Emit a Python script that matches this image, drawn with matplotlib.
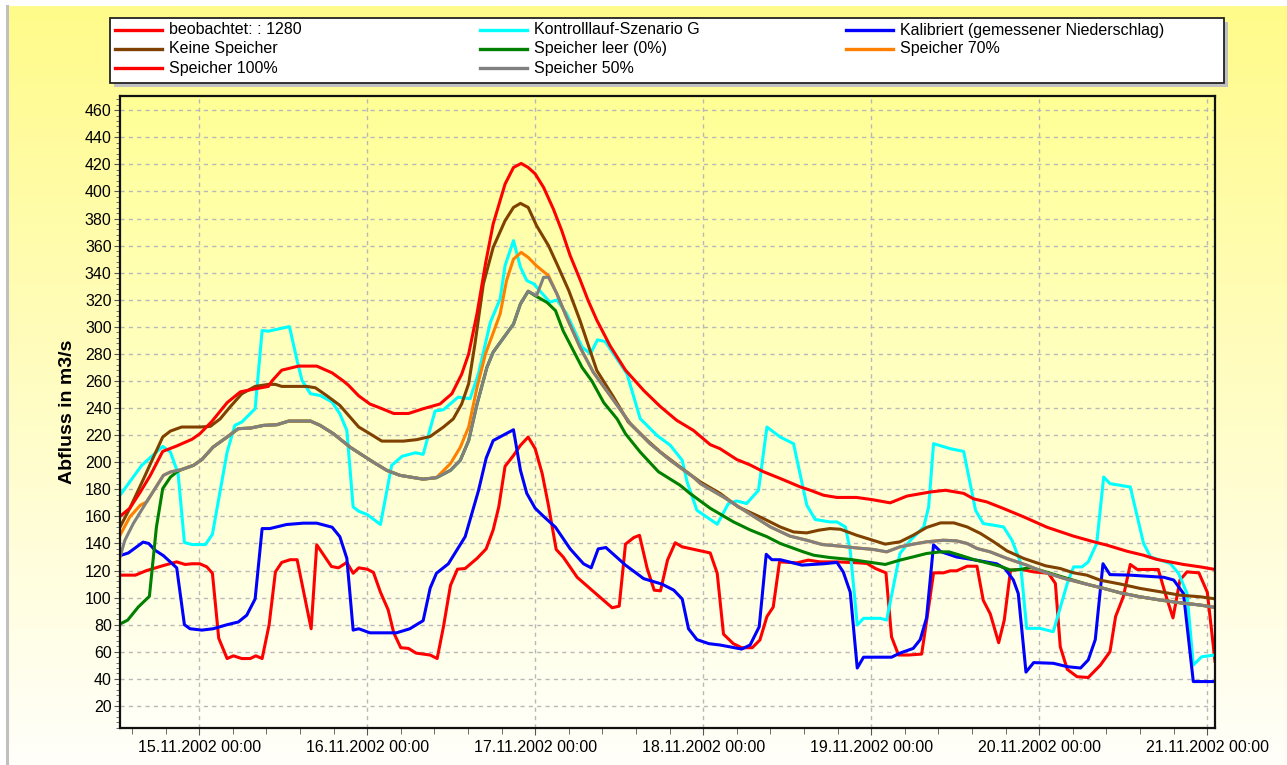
import numpy as np
import pandas as pd
import matplotlib
matplotlib.use("Agg")
import matplotlib.pyplot as plt
import matplotlib.dates as mdates
from matplotlib.ticker import MultipleLocator
from matplotlib.lines import Line2D
from matplotlib.patches import Rectangle

plt.rcParams["font.family"] = ["Liberation Sans", "DejaVu Sans"]

BASE = pd.Timestamp("2002-11-15 00:00")

# hours relative to 15.11.2002 00:00, discharge in m3/s
beob_h = [-11.3, -9.1, -7.5, -4.9, -3.2, -2.0, -1.0, 0.1, 1.1, 1.9, 2.8, 4.0, 4.9, 6.1, 7.3, 8.1, 9.0,
          10.0, 10.9, 11.8, 13.0, 14.0, 16.0, 16.8, 18.9, 19.9, 21.1, 22.0, 22.8, 24.0, 24.9, 25.9,
          27.0, 27.8, 28.8, 29.9, 31.0, 33.0, 34.0, 34.9, 35.9, 36.9, 38.0, 39.7, 41.0, 42.0, 42.8,
          43.7, 44.9, 45.9, 47.0, 48.0, 49.0, 49.9, 51.0, 52.0, 54.0, 56.1, 59.0, 60.0, 60.9, 62.1,
          62.9, 64.0, 65.0, 65.9, 66.9, 68.0, 69.0, 73.0, 74.0, 74.9, 76.3, 77.5, 79.0, 80.1, 81.1,
          82.0, 82.9, 85.4, 87.0, 88.7, 91.1, 94.2, 95.4, 96.6, 98.1, 98.9, 99.9, 101.3, 103.2,
          104.2, 104.9, 106.3, 107.3, 108.2, 109.7, 111.1, 112.0, 113.0, 114.2, 115.0, 115.9, 117.5,
          119.2, 121.3, 122.3, 123.0, 124.0, 125.4, 127.0, 128.7, 130.1, 130.9, 132.0, 133.0, 134.0,
          137.0, 138.0, 139.1, 140.1, 141.1, 142.8, 144.0, 145.1]
beob_q = [116.6, 116.6, 120, 124, 126.4, 124.5, 125, 125, 122.7, 118, 70, 55, 57, 55, 55, 57, 55,
          80, 119, 126, 128, 128, 77, 139, 123, 122, 126, 118, 122, 121, 118.6, 104,
          91, 74, 63, 62.5, 59, 57.6, 55, 78.5, 109, 121, 121.5, 129, 136, 150, 167,
          197, 205, 212.5, 218.6, 210, 191.6, 168, 135.6, 130, 115, 105.5, 92.5, 93.7, 139.5, 144.4,
          146, 121.5, 105.5, 105, 127.7, 140.5, 137.5, 133, 118, 73, 66, 63, 63, 68.7, 86,
          93, 126.4, 125.7, 127.7, 126.4, 126.4, 125.7, 125.2, 121.5, 118.3, 71, 57.6, 57.6, 58.3,
          93, 118.3, 118.3, 119.8, 119.8, 123.2, 123.2, 98, 88, 66.7, 83.4, 120.3, 120.8,
          119, 118, 110.5, 63.7, 47, 41.6, 41, 50, 60, 86, 100.6, 124.5, 120.8,
          120.8, 103, 85, 113, 119, 118.3, 104, 53]

kontroll_h = [-11.3, -8.2, -5.2, -4.1, -3.0, -2.1, -1.0, 0.9, 1.9, 4.0, 5.1, 6.1, 8.0, 9.0, 9.9, 12.9,
              14.1, 14.7, 15.9, 17.3, 19.0, 20.1, 21.1, 22.0, 22.8, 24.0, 25.9, 27.5, 29.0, 30.9, 32.0,
              33.7, 34.9, 37.0, 38.7, 39.9, 41.6, 43.0, 43.7, 44.9, 45.9, 46.8, 47.8, 50.1, 51.1, 52.5,
              54.7, 55.9, 56.9, 58.0, 61.1, 63.0, 65.4, 67.3, 69.0, 69.7, 71.1, 74.0, 75.6, 76.8, 78.2,
              79.9, 81.1, 83.0, 84.9, 86.8, 88.0, 90.1, 91.1, 92.3, 93.0, 94.0, 94.9, 97.3, 98.2, 100.1,
              101.6, 103.5, 104.2, 104.9, 107.3, 109.2, 110.9, 112.0, 113.5, 114.9, 116.1, 117.3, 118.2,
              120.1, 122.0, 124.0, 124.9, 126.1, 127.0, 128.2, 129.2, 130.1, 133.0, 134.9, 135.9, 138.7,
              139.9, 141.1, 142.0, 143.2, 145.1]
kontroll_q = [175.6, 197.7, 211.7, 207.5, 191.6, 140.7, 139.2, 139.2, 146.8, 207.5, 227.2, 229.7, 239.5,
              297.3, 296.8, 300.2, 272.7, 260.4, 250.6, 249.3, 244.4, 235.8, 223.5, 167, 163.8, 161.4,
              154, 197.7, 204.4, 207, 205.8, 237.8, 238.8, 248.1, 246.9, 265.4, 303.4, 320.7, 345.2,
              363.7, 344, 334.2, 331.7, 318.2, 319.9, 309.6, 285, 280.1, 290.4, 289.2, 265.4, 232.2,
              219.8, 212.5, 201.4, 185.5, 164.5, 154.2, 169.5, 171.4, 169.5, 179.3, 226, 218.6, 213.7,
              168.2, 157.7, 155.9, 155.9, 152.2, 135, 79.7, 84.7, 84.7, 83.4, 132.6, 142.4, 152.2, 167,
              213.7, 210, 208, 164.5, 154.7, 153.5, 152.2, 142.4, 126.4, 77.3, 77.3, 74.8, 110.5, 122.7,
              122.7, 126.4, 140, 189.1, 184.2, 181.7, 140, 130.1, 125.2, 117.9, 103.1, 50.2, 56.3, 57.6]

kalib_h = [-11.3, -10.1, -8.0, -7.2, -6.3, -5.1, -3.2, -2.1, -1.3, 0.4, 2.0, 4.0, 5.6, 6.8, 8.0, 9.0,
           10.1, 12.5, 14.9, 16.8, 19.0, 20.1, 21.1, 22.0, 22.8, 24.4, 28.2, 30.1, 32.0, 33.0, 33.9,
           35.6, 38.0, 39.9, 41.0, 42.0, 44.9, 45.9, 46.8, 48.0, 49.2, 50.9, 53.0, 54.9, 56.0, 57.0,
           58.1, 60.9, 63.5, 66.1, 67.8, 69.0, 69.9, 71.1, 72.8, 74.4, 77.5, 78.7, 80.0, 81.0, 81.8,
           83.0, 86.1, 89.2, 91.1, 92.0, 93.0, 94.0, 94.9, 98.9, 100.1, 102.0, 103.0, 103.9, 104.9,
           105.9, 108.2, 110.6, 113.9, 115.1, 116.3, 117.0, 118.1, 119.2, 122.0, 124.0, 125.9, 127.0,
           128.0, 129.1, 130.1, 133.0, 137.8, 139.2, 140.6, 142.0, 145.1]
kalib_q = [131, 133, 141, 140, 135, 131, 122, 80, 77, 76, 77, 80, 82, 87, 99, 151,
           151, 154, 155, 155, 152, 145, 129, 76, 77, 74, 74, 77, 83, 107, 118,
           125, 145, 179, 203, 216, 224, 194, 177, 166, 160, 152, 136, 125, 122, 136,
           137, 124, 114, 110, 105.5, 99, 77, 69, 66, 65, 62, 65, 78.5, 132, 128,
           128, 124, 125, 126, 119, 104, 48, 56, 56, 59, 62.5, 69, 85, 139,
           134, 130, 128, 125, 121.5, 113, 103, 45, 52, 51.5, 49, 48, 54,
           69, 125, 117, 116.6, 115, 113, 103, 38, 38]

keine_h = [-11.3, -9.9, -8.0, -6.5, -5.2, -4.1, -2.5, 0.1, 1.6, 3.0, 4.4, 6.1, 8.0, 9.9, 10.9, 11.8,
           15.4, 16.6, 18.2, 20.1, 22.8, 24.0, 26.1, 29.2, 31.1, 33.0, 34.9, 36.3, 37.5, 38.5, 39.4,
           40.6, 42.0, 43.7, 44.9, 45.9, 47.0, 48.2, 49.9, 51.1, 52.8, 54.4, 56.8, 59.2, 61.3, 64.0,
           65.9, 69.0, 71.6, 74.4, 77.0, 80.6, 83.0, 84.9, 86.8, 88.5, 90.1, 91.6, 93.9, 95.9, 98.0,
           100.1, 102.0, 103.9, 105.9, 107.8, 109.7, 111.6, 113.5, 115.4, 117.8, 120.9, 123.0, 124.9,
           126.8, 128.7, 131.6, 134.4, 137.3, 140.1, 143.0, 145.1]
keine_q = [152, 166, 187, 204, 218.6, 223, 226, 226, 226.5, 232, 240.7, 250.6, 256, 257.5, 257.5, 256,
           256, 255, 249.3, 242, 226, 222.3, 215.6, 215.6, 216.7, 219, 226, 232, 243, 258, 287.5,
           331.7, 358.7, 378.4, 388.2, 391.2, 388.2, 374.7, 360, 346.5, 326.8, 304.7, 267.8, 248, 229.7,
           216.2, 207.5, 195.3, 185.4, 177, 167, 158.4, 152.2, 148.5, 147.8, 149.8, 151, 150.5, 146.1,
           142.9, 139.5, 141.2, 146.1, 151.8, 155.2, 155.2, 152.2, 147.4, 141.2, 134.5, 128.9, 123.5,
           121.5, 118.3, 116.6, 112.9, 110, 106.8, 104.3, 101.8, 100.6, 99.1]

leer_h = [-11.3, -10.2, -8.7, -7.1, -6.1, -5.2, -4.1, -3.2, -2.5, -0.8, 0.4, 2.0, 4.0, 5.6, 7.3, 9.2,
          11.1, 12.8, 15.9, 17.3, 19.2, 21.6, 23.0, 24.9, 26.8, 28.7, 32.0, 33.9, 35.9, 37.3, 38.5,
          39.7, 41.1, 42.0, 44.9, 45.9, 47.0, 48.0, 49.7, 50.9, 52.0, 53.2, 54.7, 56.1, 57.8, 59.7,
          60.9, 63.0, 65.6, 68.7, 70.1, 73.0, 76.3, 78.7, 81.1, 83.0, 86.3, 87.8, 90.1, 93.0, 95.4,
          98.0, 100.1, 102.0, 103.9, 105.9, 107.1, 108.7, 110.6, 112.5, 114.4, 115.9, 117.3, 118.7,
          120.1, 124.0, 127.3, 128.7, 131.6, 134.4, 137.3, 140.1, 143.0, 145.1]
leer_q = [80.5, 83.4, 93, 101, 152, 180.5, 189, 192.8, 194.6, 197.7, 202, 211.2, 218.6, 224.8, 225.2,
          227.2, 227.7, 230.4, 230.4, 227.2, 221, 211, 206.3, 200, 194, 190.3, 187.5, 188.6, 194,
          201.4, 216, 243, 270, 281.3, 302, 317, 326.3, 323, 318, 312, 297, 285, 270, 260, 244,
          232, 221, 207.5, 193, 183, 177, 166, 156, 150, 145, 140, 133.8, 131.3, 129.6, 128.2,
          126.4, 124.5, 127.7, 130.1, 132.6, 133.8, 133.8, 131.3, 128.2, 125.7, 123.2, 120.3, 120.8,
          122.3, 120.3, 114.2, 109.2, 107.5, 103.5, 100.6, 98.2, 96.2, 94.5, 92.8]

sp70_h = [-11.3, -9.9, -8.4, -7.5, -6.3, -5.1, -4.1, -2.5, -0.8, 0.4, 2.0, 4.0, 5.6, 7.3, 9.2, 11.1,
          12.8, 15.9, 17.3, 19.2, 21.6, 23.0, 24.9, 26.8, 28.7, 32.0, 33.9, 35.9, 37.3, 38.5, 39.7,
          40.9, 43.0, 43.9, 44.9, 46.0, 47.0, 48.2, 49.9, 51.1, 52.5, 54.4, 56.3, 58.7, 61.6, 64.4,
          67.3, 70.6, 71.6, 74.9, 78.2, 81.6, 84.4, 86.8, 89.0, 91.6, 93.9, 96.3, 98.2, 100.1, 102.0,
          103.9, 106.3, 108.2, 109.7, 111.1, 113.0, 115.4, 118.2, 120.6, 123.5, 126.3, 128.7, 131.6,
          134.4, 137.3, 140.1, 143.0, 145.1]
sp70_q = [146, 159.6, 168.2, 170.7, 180.5, 190.3, 192.8, 194.6, 197.7, 202, 211.2, 218.6, 224.8, 225.2,
          227.2, 227.7, 230.4, 230.4, 227.2, 221, 211, 206.3, 200, 194, 190.3, 187.5, 188.6, 199, 211,
          226, 255.5, 280, 309.6, 334, 350, 355, 351.3, 345, 337.8, 324.4, 307, 285, 266.5, 249.3,
          228.5, 213.7, 201.4, 189, 184.2, 174.3, 163.3, 152.2, 145.4, 142.4, 139.2, 138, 136.7, 135.6,
          133.8, 137.5, 139.5, 141.2, 142.4, 141.9, 140, 136.3, 133.8, 128.9, 124, 119, 114.2, 110.5,
          107.5, 103.5, 100.6, 98.2, 96.2, 94.5, 92.8]

sp100_h = [-11.3, -9.9, -8.4, -7.0, -5.2, -3.2, -1.0, 0.1, 1.8, 4.0, 5.9, 7.8, 9.9, 10.4, 11.8, 14.2,
           16.8, 19.0, 20.6, 21.3, 22.8, 24.4, 25.9, 27.8, 29.9, 32.0, 34.4, 36.1, 37.5, 38.5, 39.7,
           40.9, 42.0, 43.7, 44.9, 46.0, 47.0, 48.0, 49.2, 50.6, 51.8, 53.0, 54.4, 55.6, 56.8, 58.7,
           60.9, 63.5, 65.9, 68.2, 70.6, 73.0, 74.4, 76.8, 78.7, 80.6, 83.0, 85.9, 87.3, 89.2, 91.1,
           93.9, 96.1, 98.7, 101.1, 104.4, 106.6, 109.2, 110.6, 112.5, 114.9, 117.8, 121.1, 124.9,
           127.8, 129.7, 132.5, 134.9, 136.8, 140.6, 143.0, 145.1]
sp100_q = [160, 166, 178, 190, 208, 212, 217, 221, 230, 244, 252, 254, 256, 260, 268, 271,
           271, 266, 260, 257, 249, 243, 240, 236, 236, 239.5, 243, 250.6, 265, 280, 310,
           346.5, 376, 405.5, 417.7, 420.7, 417.7, 413, 403, 387, 371, 352.6, 335, 319, 305, 286,
           268, 253, 241, 231, 223.5, 213, 210, 202, 198, 193, 188, 181.7, 179.3, 175.6, 174,
           174, 172.4, 170, 175, 178, 179.3, 177, 173, 170.7, 165.8, 159.6, 152, 145.4,
           141.2, 138.7, 134.3, 131.3, 128.2, 124.5, 122.7, 120.8]

sp50_h = [-11.3, -10.6, -9.4, -7.5, -6.3, -5.1, -4.1, -2.5, -0.8, 0.4, 2.0, 4.0, 5.6, 7.3, 9.2, 11.1,
          12.8, 15.9, 17.3, 19.2, 21.6, 23.0, 24.9, 26.8, 28.7, 32.0, 33.9, 35.9, 37.3, 38.5, 39.7,
          41.1, 42.0, 44.9, 45.9, 47.0, 48.2, 49.2, 49.9, 51.1, 52.5, 54.4, 56.3, 58.7, 61.6, 64.4,
          67.3, 70.6, 71.6, 74.9, 78.2, 81.6, 84.4, 86.8, 89.0, 91.6, 93.9, 96.3, 98.2, 100.1, 102.0,
          103.9, 106.3, 108.2, 109.7, 111.1, 113.0, 115.4, 118.2, 120.6, 123.5, 126.3, 128.7, 131.6,
          134.4, 137.3, 140.1, 143.0, 145.1]
sp50_q = [130, 142.4, 154.7, 170.7, 180.5, 190.3, 192.8, 194.6, 197.7, 202, 211.2, 218.6, 224.8, 225.2,
          227.2, 227.7, 230.4, 230.4, 227.2, 221, 211, 206.3, 200, 194, 190.3, 187.5, 188.6, 194, 201.4,
          216, 243, 270, 281.3, 302, 317, 326.3, 323, 336.6, 336.6, 324.4, 307, 285, 266.5, 249.3,
          228.5, 213.7, 201.4, 189, 184.2, 174.3, 163.3, 152.2, 145.4, 142.4, 139.2, 138, 136.7, 135.6,
          133.8, 137.5, 139.5, 141.2, 142.4, 141.9, 140, 136.3, 133.8, 128.9, 124, 119, 114.2, 110.5,
          107.5, 103.5, 100.6, 98.2, 96.2, 94.5, 92.8]

series = [
    ("beobachtet: : 1280", beob_h, beob_q, "#ff0000"),
    ("Kontrolllauf-Szenario G", kontroll_h, kontroll_q, "#00ffff"),
    ("Kalibriert (gemessener Niederschlag)", kalib_h, kalib_q, "#0000ff"),
    ("Keine Speicher", keine_h, keine_q, "#804000"),
    ("Speicher leer (0%)", leer_h, leer_q, "#008000"),
    ("Speicher 70%", sp70_h, sp70_q, "#ff8000"),
    ("Speicher 100%", sp100_h, sp100_q, "#ff0000"),
    ("Speicher 50%", sp50_h, sp50_q, "#808080"),
]


def to_time(h):
    return BASE + pd.to_timedelta(h, unit="h")


W, H = 1287, 765
fig = plt.figure(figsize=(W / 100, H / 100), dpi=100)
fig.patch.set_facecolor("white")


def fx(px):
    return px / W


def fy(py):
    return 1 - py / H


# yellow gradient panel behind everything
grad = np.linspace(0, 1, 256)[:, None]
bg_colors = np.zeros((256, 1, 3))
bg_colors[..., 0] = 1.0
bg_colors[..., 1] = (251 + (255 - 251) * grad) / 255
bg_colors[..., 2] = (138 + (250 - 138) * grad) / 255
bg = fig.add_axes([fx(8), 0, 1 - fx(8), 1 - 6 / H], zorder=-10)
bg.imshow(bg_colors, aspect="auto", extent=[0, 1, 0, 1], origin="upper")
bg.set_axis_off()
fig.add_artist(Line2D([fx(6.5), fx(6.5)], [0, fy(6)], transform=fig.transFigure,
                      color="#c0c0c0", lw=2.2))

ax = fig.add_axes([fx(120), fy(728), fx(1215 - 120), (728 - 96) / H])
ax.set_facecolor("none")
ax_colors = np.zeros((256, 1, 3))
ax_colors[..., 0] = 1.0
ax_colors[..., 1] = 1.0
ax_colors[..., 2] = (150 + (248 - 150) * grad) / 255
ax.imshow(ax_colors, aspect="auto", extent=[0, 1, 0, 1], origin="upper",
          transform=ax.transAxes, zorder=0)

for label, h, q, color in series:
    ax.plot(to_time(h), q, color=color, lw=2.2, label=label, zorder=3)

ax.set_xlim(to_time(-11.3), to_time(145.1))
ax.set_ylim(3.7, 470.5)

ax.set_yticks(np.arange(20, 461, 20))
ax.yaxis.set_minor_locator(MultipleLocator(4))
ax.xaxis.set_major_locator(mdates.DayLocator())
ax.xaxis.set_major_formatter(mdates.DateFormatter("%d.%m.%Y %H:%M"))
ax.xaxis.set_minor_locator(MultipleLocator(0.2))

ax.tick_params(axis="both", which="major", labelsize=11.5, direction="out", color="#555555")
ax.tick_params(axis="y", which="major", length=4, pad=2)
ax.tick_params(axis="y", which="minor", length=3, color="#555555")
ax.tick_params(axis="x", which="major", length=5, pad=4)
ax.tick_params(axis="x", which="minor", length=4, color="#555555")

ax.grid(which="major", color="#b8b8b8", linestyle=(0, (3, 3)), lw=1.0, zorder=1)
for s in ax.spines.values():
    s.set_linewidth(1.6)
    s.set_color("#111111")
    s.set_zorder(5)

ax.set_ylabel("Abfluss in m3/s", fontsize=14, fontweight="bold", labelpad=6)

# legend box drawn by hand: three columns filled row by row
lx0, lx1, ly0, ly1 = 110, 1224, 18, 83
fig.add_artist(Rectangle((fx(lx0 + 4), fy(ly1 + 4)), fx(lx1 - lx0), (ly1 - ly0) / H,
                         transform=fig.transFigure, facecolor="#c0c0c0", edgecolor="none",
                         zorder=2))
fig.add_artist(Rectangle((fx(lx0), fy(ly1)), fx(lx1 - lx0), (ly1 - ly0) / H,
                         transform=fig.transFigure, facecolor="white", edgecolor="#222222",
                         lw=1.3, zorder=3))
col_x = [115, 480, 846]
row_y = [30, 49, 68]
for i, (label, h, q, color) in enumerate(series):
    c, r = i % 3, i // 3
    x0, y0 = col_x[c], row_y[r]
    fig.add_artist(Line2D([fx(x0), fx(x0 + 47)], [fy(y0), fy(y0)], transform=fig.transFigure,
                          color=color, lw=2.4, zorder=4))
    fig.text(fx(x0 + 54), fy(y0), label, fontsize=11.5, va="center", ha="left", zorder=4)

fig.savefig("out.png", dpi=100)
